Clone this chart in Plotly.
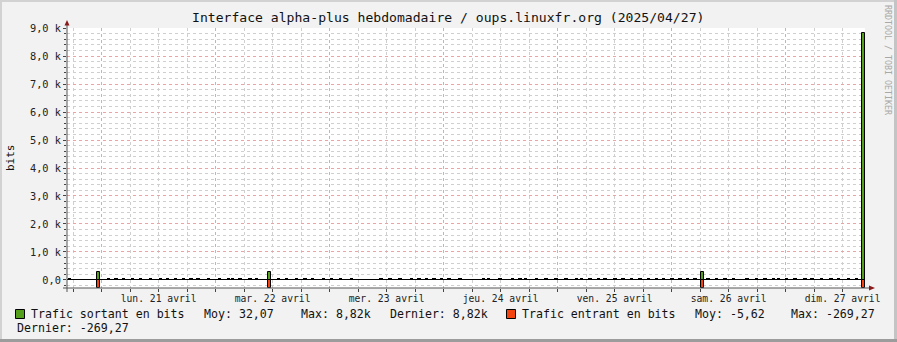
import plotly.graph_objects as go
from datetime import datetime, timedelta

# ---------------- data ----------------
START = datetime(2025, 4, 20, 16, 43)
END = START + timedelta(days=7)

day_midnights = ["2025-04-21", "2025-04-22", "2025-04-23", "2025-04-24",
                 "2025-04-25", "2025-04-26", "2025-04-27"]
day_labels = ["lun. 21 avril", "mar. 22 avril", "mer. 23 avril", "jeu. 24 avril",
              "ven. 25 avril", "sam. 26 avril", "dim. 27 avril"]

y_tick_vals = [0, 1000, 2000, 3000, 4000, 5000, 6000, 7000, 8000, 9000]
y_tick_text = ["0,0", "1,0 k", "2,0 k", "3,0 k", "4,0 k", "5,0 k",
               "6,0 k", "7,0 k", "8,0 k", "9,0 k"]

# spikes (outgoing positive, incoming negative)
spike_times = ["2025-04-20 23:15", "2025-04-22 11:21", "2025-04-26 06:30", "2025-04-27 16:30"]
out_spikes = [300, 280, 300, 8820]
in_spikes = [-269.27, -269.27, -269.27, -269.27]

# small background traffic bumps (hours after START, bits)
bump_hours = [0.5, 8.7, 10.3, 11.9, 13.8, 15.5, 17.6, 19.7, 21.2, 22.8, 24.5, 26.1,
              27.6, 29.8, 32.1, 34.0, 34.8, 36.4, 38.5, 39.9, 44.5, 46.2, 48.3, 50.1,
              51.7, 54.0, 55.7, 57.6, 59.9, 66.1, 68.0, 70.1, 72.5, 74.1, 75.7, 77.3,
              78.8, 80.4, 82.7, 87.7, 88.7, 91.1, 93.8, 95.4, 96.5, 98.8, 100.9, 102.9,
              105.1, 107.3, 108.3, 110.1, 111.9, 113.3, 115.4, 117.1, 118.8, 120.6, 122.4,
              124.1, 125.6, 127.4, 129.0, 130.6, 132.2, 135.0, 136.7, 138.5, 140.3, 143.1,
              145.2, 146.9, 148.7, 149.8, 151.5, 153.3, 155.4, 156.9, 158.8, 160.9, 162.4,
              164.5, 166.2]
bump_values = [36, 36, 36, 36, 36, 36, 36, 36, 36, 36, 36, 36,
               36, 36, 36, 36, 36, 36, 36, 36, 36, 36, 36, 36,
               36, 36, 36, 36, 36, 36, 36, 36, 36, 36, 36, 36,
               36, 36, 36, 36, 36, 36, 36, 36, 36, 36, 36, 36,
               36, 36, 36, 36, 36, 36, 36, 36, 36, 36, 36,
               36, 36, 36, 36, 36, 36, 36, 36, 36, 36, 36,
               36, 36, 36, 36, 36, 36, 36, 36, 36, 36, 36,
               36, 36]

legend_out = ["Trafic sortant en bits", "Moy: 32,07", "Max: 8,82k", "Dernier: 8,82k"]
legend_in = ["Trafic entrant en bits", "Moy: -5,62", "Max: -269,27", "Dernier: -269,27"]

TITLE = "Interface alpha-plus hebdomadaire / oups.linuxfr.org (2025/04/27)"

# ---------------- style ----------------
W, H = 897, 342
L, R, T, B = 67, 865, 28, 288
GREEN = "#54A01C"
ORANGE = "#F5430F"
MAJ = "#EBA3A3"
MIN = "#CFCFCF"
MONO = "DejaVu Sans Mono"


def px(x):
    return (x - L) / (R - L)


def py(y):
    return (B - y) / (B - T)


bump_times = [START + timedelta(hours=h) for h in bump_hours]

fig = go.Figure()

fig.add_trace(go.Bar(x=bump_times, y=bump_values, width=45 * 60 * 1000,
                     marker=dict(color="#000000", line=dict(width=0)),
                     hoverinfo="skip", showlegend=False))
fig.add_trace(go.Bar(x=spike_times, y=out_spikes, width=38 * 60 * 1000,
                     marker=dict(color=GREEN, line=dict(color="#000000", width=1)),
                     showlegend=False))
fig.add_trace(go.Bar(x=spike_times, y=in_spikes, width=38 * 60 * 1000,
                     marker=dict(color=ORANGE, line=dict(color="#000000", width=1)),
                     showlegend=False))
# carrier for label axis
fig.add_trace(go.Scatter(x=[START, END], y=[0, 0], xaxis="x2", mode="lines",
                         line=dict(width=0), hoverinfo="skip", showlegend=False))

fig.update_layout(
    width=W, height=H,
    margin=dict(l=L, r=W - R, t=T, b=H - B, pad=0),
    paper_bgcolor="#F2F2F2",
    plot_bgcolor="#FFFFFF",
    barmode="overlay",
    bargap=0,
    showlegend=False,
    font=dict(family=MONO, size=10, color="#222222"),
    xaxis=dict(
        type="date", range=[START, END],
        tickmode="linear", tick0="2025-04-21", dtick=86400000,
        showticklabels=False,
        showgrid=True, gridcolor=MAJ, griddash="dot", gridwidth=1,
        ticks="outside", ticklen=3, tickcolor="#444444",
        showline=False, zeroline=False,
        minor=dict(tickmode="linear", tick0="2025-04-21", dtick=21600000,
                   showgrid=True, gridcolor=MIN, griddash="dot", gridwidth=1,
                   ticks="outside", ticklen=3, tickcolor="#444444"),
    ),
    xaxis2=dict(
        type="date", range=[START, END], overlaying="x", anchor="y", side="bottom",
        tickmode="array",
        tickvals=[d + " 12:00" for d in day_midnights], ticktext=day_labels,
        showgrid=False, ticks="", showline=False, zeroline=False,
        ticklabelstandoff=3,
        tickfont=dict(family=MONO, size=9.7, color="#222222"),
    ),
    yaxis=dict(
        range=[-286, 9000],
        tickmode="array", tickvals=y_tick_vals, ticktext=y_tick_text,
        showgrid=True, gridcolor=MAJ, griddash="dot", gridwidth=1,
        ticks="outside", ticklen=3, tickcolor="#444444",
        tickfont=dict(family=MONO, size=10.3, color="#222222"),
        zeroline=True, zerolinecolor="#000000", zerolinewidth=1,
        showline=False,
        minor=dict(tickmode="linear", tick0=0, dtick=200,
                   showgrid=True, gridcolor=MIN, griddash="dot", gridwidth=1,
                   ticks="outside", ticklen=2, tickcolor="#444444"),
    ),
)

shapes = []
AX = "#555555"
# axis lines extending past plot
shapes.append(dict(type="line", xref="paper", yref="paper", x0=px(67), x1=px(67),
                   y0=py(292), y1=py(22), line=dict(color=AX, width=1)))
shapes.append(dict(type="line", xref="paper", yref="paper", x0=px(63), x1=px(870),
                   y0=py(288), y1=py(288), line=dict(color=AX, width=1)))
# arrows
shapes.append(dict(type="path", xref="paper", yref="paper",
                   path=f"M {px(64.5)} {py(25.5)} L {px(69.5)} {py(25.5)} L {px(67)} {py(20)} Z",
                   fillcolor="#8B1A1A", line=dict(width=0)))
shapes.append(dict(type="path", xref="paper", yref="paper",
                   path=f"M {px(869)} {py(285.5)} L {px(869)} {py(290.5)} L {px(875)} {py(288)} Z",
                   fillcolor="#8B1A1A", line=dict(width=0)))
# legend squares
shapes.append(dict(type="rect", xref="paper", yref="paper", x0=px(15.5), x1=px(24.5),
                   y0=py(318.5), y1=py(309.5), fillcolor=GREEN, line=dict(color="#000000", width=1)))
shapes.append(dict(type="rect", xref="paper", yref="paper", x0=px(506.5), x1=px(515.5),
                   y0=py(318.5), y1=py(309.5), fillcolor=ORANGE, line=dict(color="#000000", width=1)))
# frame
shapes.append(dict(type="rect", xref="paper", yref="paper", x0=px(0), x1=px(W),
                   y0=py(0), y1=py(2), fillcolor="#D2D2D2", line=dict(width=0)))
shapes.append(dict(type="rect", xref="paper", yref="paper", x0=px(0), x1=px(2),
                   y0=py(0), y1=py(H), fillcolor="#D2D2D2", line=dict(width=0)))
shapes.append(dict(type="rect", xref="paper", yref="paper", x0=px(W - 3), x1=px(W),
                   y0=py(0), y1=py(H), fillcolor="#C4C4C4", line=dict(width=0)))
shapes.append(dict(type="rect", xref="paper", yref="paper", x0=px(0), x1=px(W),
                   y0=py(H - 3), y1=py(H), fillcolor="#9C9C9C", line=dict(width=0)))
fig.update_layout(shapes=shapes)

ann = []


def text(x, y, s, size=11.6, color="#111111", xanchor="left", angle=0):
    ann.append(dict(xref="paper", yref="paper", x=px(x), y=py(y), text=s,
                    showarrow=False, xanchor=xanchor, yanchor="middle",
                    textangle=angle, borderpad=0,
                    font=dict(family=MONO, size=size, color=color)))


text(448, 18, TITLE, size=13.1, xanchor="center")
text(10, 158, "bits", size=11, xanchor="center", angle=-90)
text(888, 60, "RRDTOOL / TOBI OETIKER", size=8.3, color="#A8A8A8", xanchor="center", angle=90)
text(30, 314, legend_out[0])
text(203, 314, legend_out[1])
text(300, 314, legend_out[2])
text(389, 314, legend_out[3])
text(521, 314, legend_in[0])
text(694, 314, legend_in[1])
text(790, 314, legend_in[2])
text(16, 328, legend_in[3])
fig.update_layout(annotations=ann)

fig.write_html("out.html")
